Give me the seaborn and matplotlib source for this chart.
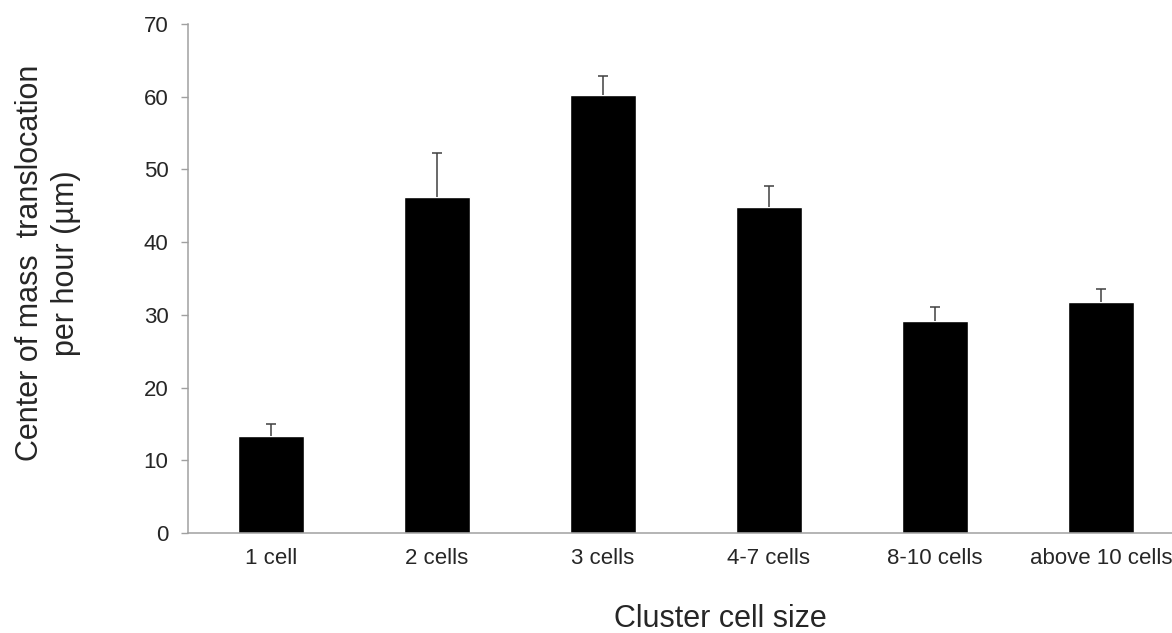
import numpy as np
import pandas as pd
import matplotlib
matplotlib.use("Agg")
import matplotlib.pyplot as plt
import seaborn as sns

# values
categories = ['1 cell', '2 cells', '3 cells', '4-7 cells', '8-10 cells', 'above 10 cells']
means = [13.3, 46.2, 60.3, 44.9, 29.1, 31.8]
errors = [1.7, 6.1, 2.5, 2.8, 2.0, 1.8]

df = pd.DataFrame({'size': categories, 'translocation': means})

sns.set_style('white')
plt.rcParams['font.family'] = ['Liberation Sans', 'DejaVu Sans']

fig = plt.figure(figsize=(11.72, 6.33), dpi=100)
ax = fig.add_axes([0.1604, 0.158, 0.8498, 0.804])

sns.barplot(data=df, x='size', y='translocation', color='black',
            saturation=1, width=0.4, ax=ax)

# upper error bars only, hide the lower caps
x = np.arange(len(categories))
eb = ax.errorbar(x, means, yerr=[np.zeros(len(errors)), errors], fmt='none',
                 ecolor='#404040', elinewidth=1.1, capsize=3.6, capthick=1.1)
eb[1][0].set_visible(False)

ax.set_xlim(-0.5, len(categories) - 0.5)
ax.set_ylim(0, 70)
ax.set_yticks(range(0, 71, 10))

# x ticks sit between the categories
ax.set_xticks(x)
ax.set_xticklabels(categories)
ax.tick_params(axis='x', which='major', length=0, labelsize=16, pad=11)
ax.set_xticks(np.arange(-0.5, len(categories), 1), minor=True)
ax.tick_params(axis='x', which='minor', length=5, width=1, color='#a0a0a0', direction='out')
ax.tick_params(axis='y', length=5, width=1, color='#a0a0a0', direction='out',
               labelsize=16, pad=9, left=True)

for s in ['top', 'right']:
    ax.spines[s].set_visible(False)
for s in ['left', 'bottom']:
    ax.spines[s].set_color('#a0a0a0')
    ax.spines[s].set_linewidth(1.1)

ax.set_xlabel('')
ax.set_ylabel('')
fig.text(0.615, 6.0 / 633, 'Cluster cell size', fontsize=22, ha='center', va='baseline')
fig.text(48 / 1172, 1 - 263 / 633, 'Center of mass  translocation\nper hour (µm)',
         fontsize=22, ha='center', va='center', rotation=90, linespacing=1.3,
         multialignment='center')

fig.savefig('out.png', dpi=100)
